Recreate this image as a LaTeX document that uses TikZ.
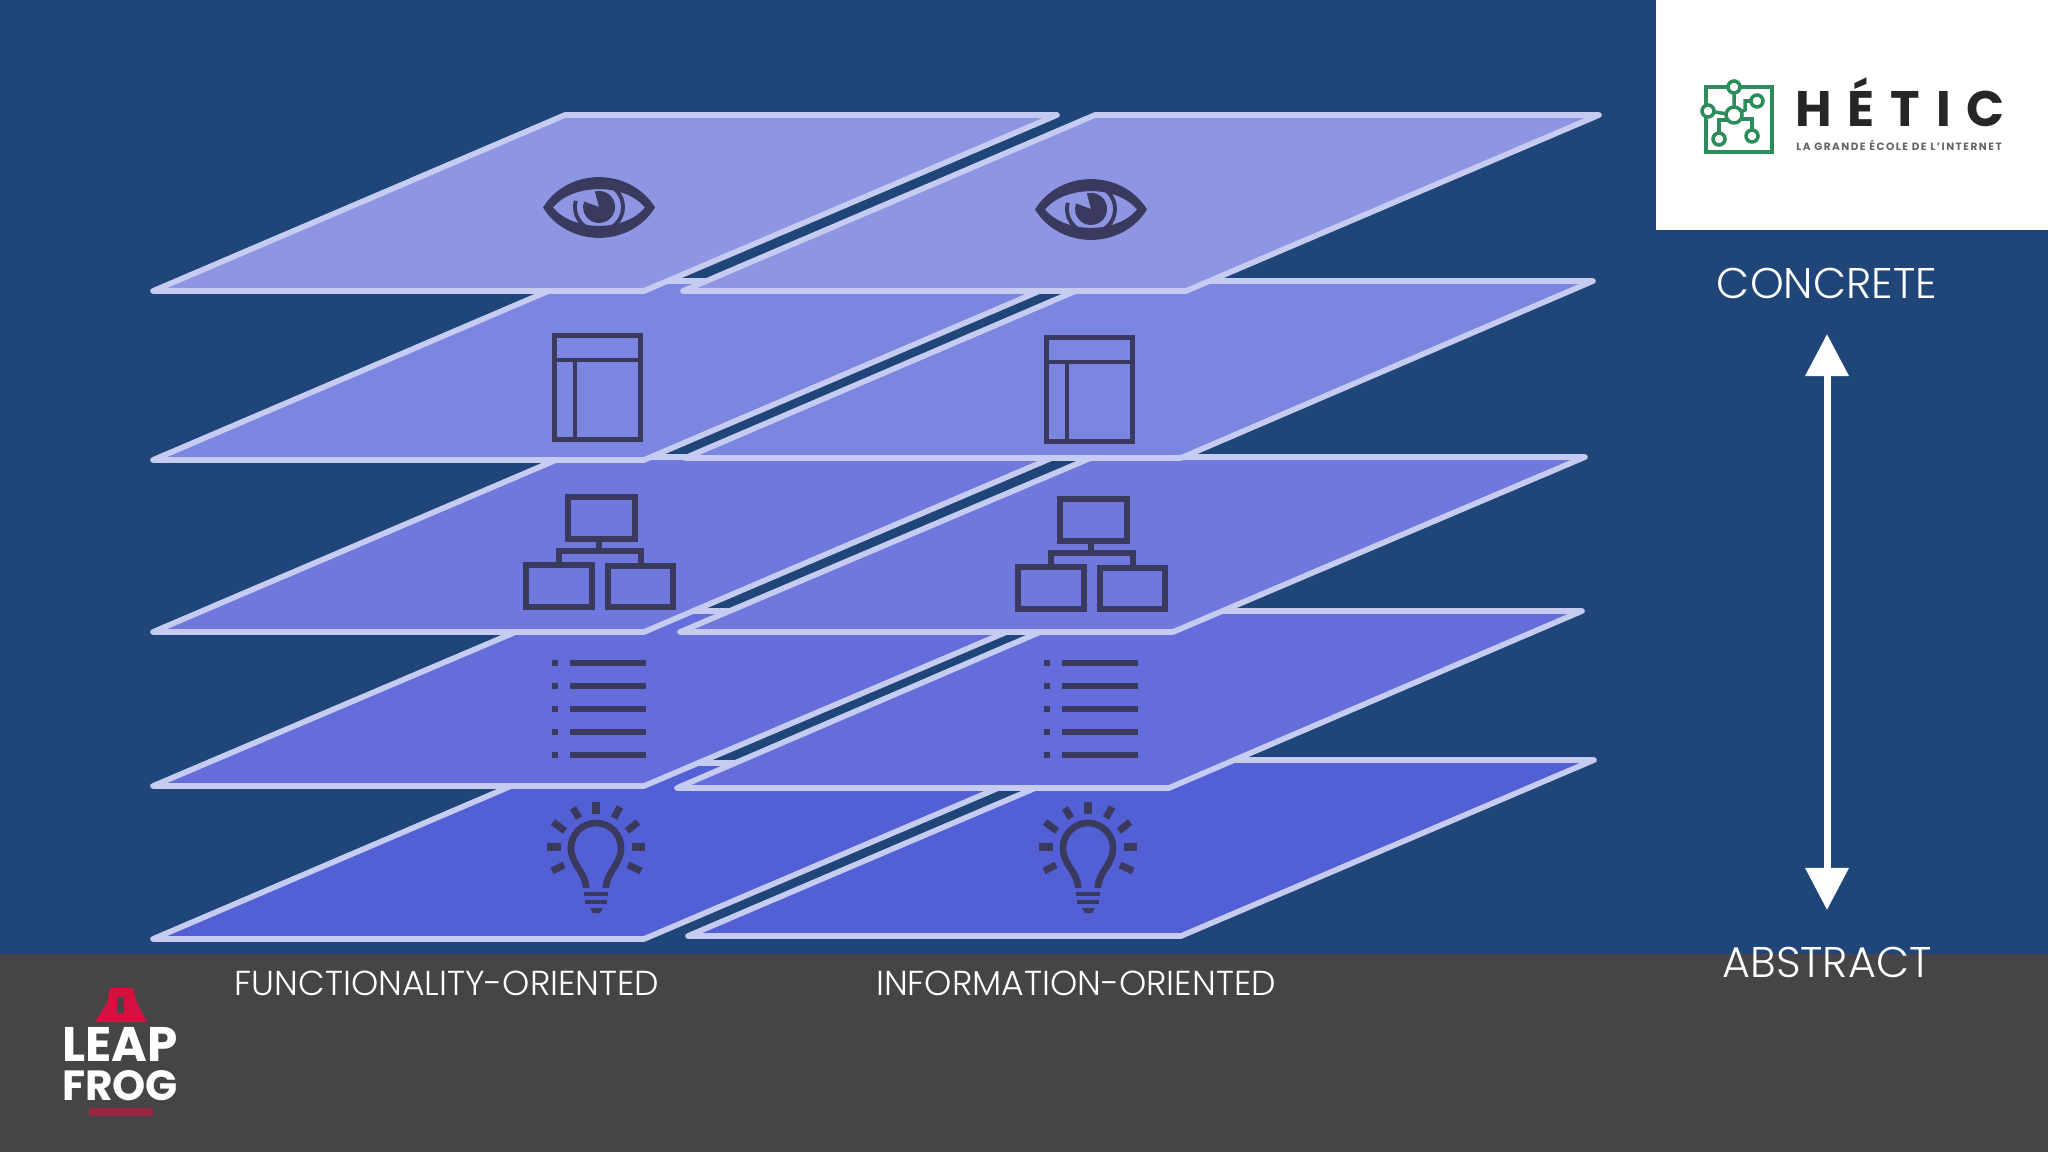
\documentclass[tikz,border=0pt]{standalone}
\usepackage{fontspec}
\usepackage{xcolor}
\usetikzlibrary{arrows.meta}
\setmainfont{Poppins}
\newfontfamily\lightfont{Poppins Light}
\definecolor{bgblue}{HTML}{1F4579}
\definecolor{bandgray}{HTML}{454446}
\definecolor{edgelilac}{HTML}{C6CBF1}
\definecolor{iconink}{HTML}{3A3A5E}
\definecolor{layerA}{HTML}{8E95E3}
\definecolor{layerB}{HTML}{7C85DF}
\definecolor{layerC}{HTML}{7078DE}
\definecolor{layerD}{HTML}{646DDA}
\definecolor{layerE}{HTML}{535FD5}
\definecolor{logogreen}{HTML}{2E8B5B}
\definecolor{logored}{HTML}{D5123F}
\tikzset{
  plane/.style={draw=edgelilac, line width=1.6pt, line join=round, line cap=round},
  iconline/.style={draw=iconink, line width=1.4pt},
  iconfill/.style={fill=iconink},
  caption/.style={text=white, inner sep=0pt, font=\lightfont\fontsize{9.85}{12}\selectfont},
  endlabel/.style={text=white, inner sep=0pt, font=\lightfont\fontsize{12.2}{14}\selectfont},
  logoline/.style={draw=logogreen, line width=1pt},
  logoknot/.style={draw=logogreen, fill=white, line width=1pt}
}
\begin{document}
\begin{tikzpicture}[x=0.01cm, y=-0.01cm]
  \useasboundingbox (0,0) rectangle (2048,1152);
  \fill[bgblue] (0,0) rectangle (2048,1152);
  \fill[bandgray] (0,954) rectangle (2048,1152);
  \fill[white] (1656,0) rectangle (2048,230);

  % planes, lowest first
  \draw[plane, fill=layerE] (153,939) -- (644,939) -- (1057,763) -- (565,763) -- cycle;
  \draw[plane, fill=layerE] (688,936) -- (1181,936) -- (1594,760) -- (1101,760) -- cycle;
  \draw[plane, fill=layerD] (153,786) -- (644,786) -- (1056,611) -- (565,611) -- cycle;
  \draw[plane, fill=layerD] (677,788) -- (1169,788) -- (1582,611) -- (1089,611) -- cycle;
  \draw[plane, fill=layerC] (153,632) -- (644,632) -- (1054,457) -- (563,457) -- cycle;
  \draw[plane, fill=layerC] (680,632) -- (1173,632) -- (1585,457) -- (1093,457) -- cycle;
  \draw[plane, fill=layerB] (153,460) -- (644,460) -- (1063,281) -- (572,281) -- cycle;
  \draw[plane, fill=layerB] (685,458) -- (1181,458) -- (1593,281) -- (1099,281) -- cycle;
  \draw[plane, fill=layerA] (153,291) -- (644,291) -- (1057,115) -- (565,115) -- cycle;
  \draw[plane, fill=layerA] (683,291) -- (1186,291) -- (1599,115) -- (1095,115) -- cycle;

  % the same five icons in both columns
  \foreach \dx/\dya/\dyb in {0/0/0, 492/2/0} {
    \begin{scope}[shift={(\dx,\dya)}]
      \fill[iconfill, even odd rule]
        (543,207.5) .. controls (568,167) and (630,167) .. (655,207.5)
        .. controls (630,248) and (568,248) .. (543,207.5) -- cycle
        (553,207.5) .. controls (573,183) and (625,183) .. (645,207.5)
        .. controls (625,232) and (573,232) .. (553,207.5) -- cycle;
      \draw[iconline, line width=1.1pt] (590,184.7) arc[start angle=112, end angle=-195, radius=0.24cm];
      \fill[iconfill] (599,207) -- (594.9,191.5) arc[start angle=105, end angle=-200, radius=0.16cm] -- cycle;

      \draw[iconline] (554.5,335.5) rectangle (640.5,439.5);
      \draw[iconline] (554.5,360) -- (640.5,360);
      \draw[iconline] (575,360) -- (575,439.5);

      \draw[iconline, line width=1.5pt] (568,497) rectangle (635,539);
      \draw[iconline, line width=1.5pt] (526,565) rectangle (592,607);
      \draw[iconline, line width=1.5pt] (608,566) rectangle (673,607);
      \draw[iconline, line width=1.5pt] (599,539) -- (599,551);
      \draw[iconline, line width=1.5pt] (559,565) -- (559,551) -- (641,551) -- (641,566);
    \end{scope}
    \begin{scope}[shift={(\dx,\dyb)}]
      \foreach \ylist in {663,686,709,732,755} {
        \fill[iconfill] (552,\ylist-3) rectangle (558,\ylist+3);
        \fill[iconfill] (570,\ylist-3) rectangle (646,\ylist+3);
      }

      \draw[iconline, line width=1.9pt] (586,888) .. controls (586,872) and (571,865) .. (571,848)
        arc[start angle=180, end angle=0, radius=0.25cm]
        .. controls (621,865) and (606,872) .. (606,888);
      \foreach \xa/\ya/\xb/\yb in {596/802/596/814, 573/808/579/818, 620/807/614/818,
          553/822/565/831, 638/822/627/831, 547/847/561/847, 632/847/645/847,
          552/871/564/865, 641/871/628/865} {
        \draw[iconline, line width=2pt] (\xa,\ya) -- (\xb,\yb);
      }
      \draw[iconline] (584,894) -- (608,894);
      \draw[iconline] (585,902) -- (607,902);
      \fill[iconfill] (590,908) -- (603,908) -- (600,913) -- (593,913) -- cycle;
    \end{scope}
  }

  % scale at the right
  \node[endlabel] (concrete) at (1827,283) {CONCRETE};
  \node[endlabel] (abstract) at (1827,962) {ABSTRACT};
  \draw[{Triangle[width=0.42cm,length=0.42cm]}-{Triangle[width=0.42cm,length=0.42cm]}, white, line width=2pt,
    shorten <=0.35cm, shorten >=0.36cm] (concrete) -- (abstract);

  \node[caption] (functionality) at (447,983) {FUNCTIONALITY-ORIENTED};
  \node[caption] (information) at (1076,983) {INFORMATION-ORIENTED};

  % school logo
  \draw[logoline, line width=1.1pt] (1706,87) rectangle (1772,152);
  \draw[logoline] (1734,87) -- (1734,115) (1708,111) -- (1734,115);
  \draw[logoline] (1734,115) -- (1745,110) -- (1745,101) -- (1757,101);
  \draw[logoline] (1719,139) -- (1719,120) -- (1734,120);
  \draw[logoline] (1752,136) -- (1752,119) -- (1734,119);
  \draw[logoknot] (1734,87) circle[radius=6];
  \draw[logoknot] (1757,101) circle[radius=6];
  \draw[logoknot] (1708,111) circle[radius=6];
  \draw[logoknot] (1734,115) circle[radius=8];
  \draw[logoknot] (1719,139) circle[radius=6];
  \draw[logoknot] (1752,136) circle[radius=6];
  \node[inner sep=0pt, text=black!85, font=\bfseries\fontsize{14.2}{16}\selectfont\addfontfeature{LetterSpace=32}] (hetic) at (1900,102) {HÉTIC};
  \node[inner sep=0pt, text=black!60, font=\bfseries\fontsize{3}{3.5}\selectfont\addfontfeature{LetterSpace=14}] (tagline) at (1899,145) {LA GRANDE ÉCOLE DE L'INTERNET};

  % academy logo
  \fill[logored] (110,988) -- (133,988) -- (137,1003) -- (147,1022) -- (95,1022) -- (107,1003) -- cycle;
  \fill[bandgray] (117,997) rectangle (124,1013);
  \node[inner sep=0pt, align=center, text=white, font=\bfseries\fontsize{13}{11}\selectfont] (leapfrog) at (120,1064)
    {{\fontsize{13.8}{11}\selectfont LEAP}\\{\fontsize{12}{11}\selectfont FROG}};
  \fill[logored!60!bandgray] (89,1108) rectangle (153,1116);
\end{tikzpicture}
\end{document}
